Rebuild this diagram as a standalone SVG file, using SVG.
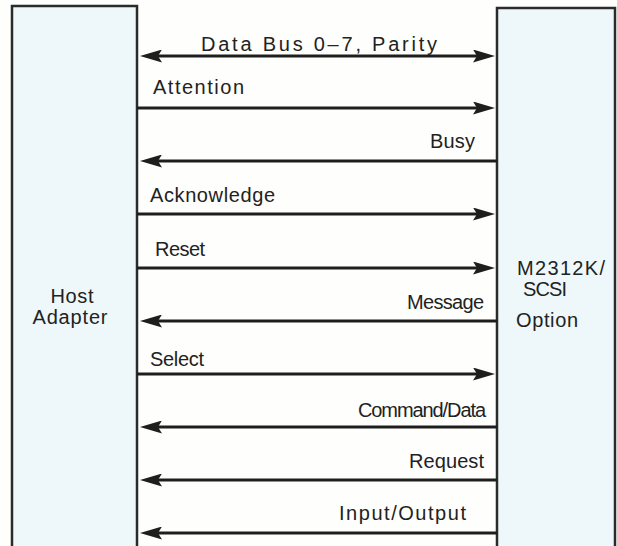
<svg xmlns="http://www.w3.org/2000/svg" width="617" height="546" viewBox="0 0 617 546">
<defs>
<style>
.box{fill:#eef8fb;stroke:#2b2b2b;stroke-width:2.5}
.sig{stroke:#1e1e1e;stroke-width:3;fill:none}
text{font-family:"Liberation Sans",Arial,sans-serif;font-size:20px;fill:#222}
</style>
<marker id="ah" viewBox="0 0 22 13" refX="14" refY="6.5" markerWidth="22" markerHeight="13" markerUnits="userSpaceOnUse" orient="auto-start-reverse">
<path d="M0,0 L22,6.5 L0,13 L4,6.5 Z" fill="#1e1e1e"/>
</marker>
</defs>
<rect width="617" height="546" fill="#fefefc"/>
<g id="host-adapter">
<path class="box" d="M12,550 L12,6 L137,6 L137,550"/>
<text x="72" y="303" text-anchor="middle" textLength="43">Host</text>
<text x="70" y="324" text-anchor="middle" textLength="75">Adapter</text>
</g>
<g id="scsi-option">
<path class="box" d="M497,550 L497,8 L615,8 L615,550"/>
<text x="517" y="275" textLength="88">M2312K/</text>
<text x="523" y="296" textLength="44">SCSI</text>
<text x="516" y="327" textLength="62">Option</text>
</g>
<g id="connectors">
<line class="sig" x1="148" y1="56" x2="487" y2="56" marker-start="url(#ah)" marker-end="url(#ah)"/>
<line class="sig" x1="137" y1="108" x2="487" y2="108" marker-end="url(#ah)"/>
<line class="sig" x1="497" y1="161" x2="148" y2="161" marker-end="url(#ah)"/>
<line class="sig" x1="137" y1="214" x2="487" y2="214" marker-end="url(#ah)"/>
<line class="sig" x1="137" y1="268" x2="487" y2="268" marker-end="url(#ah)"/>
<line class="sig" x1="497" y1="321" x2="148" y2="321" marker-end="url(#ah)"/>
<line class="sig" x1="137" y1="374" x2="487" y2="374" marker-end="url(#ah)"/>
<line class="sig" x1="497" y1="427" x2="148" y2="427" marker-end="url(#ah)"/>
<line class="sig" x1="497" y1="480" x2="148" y2="480" marker-end="url(#ah)"/>
<line class="sig" x1="497" y1="533" x2="148" y2="533" marker-end="url(#ah)"/>
</g>
<g id="labels">
<text x="201" y="51" textLength="236">Data Bus 0–7, Parity</text>
<text x="153" y="94" textLength="91">Attention</text>
<text x="430" y="148" textLength="45">Busy</text>
<text x="150" y="202" textLength="125">Acknowledge</text>
<text x="155" y="256" textLength="50">Reset</text>
<text x="407" y="309" textLength="77">Message</text>
<text x="150" y="366" textLength="54">Select</text>
<text x="358" y="417" textLength="128">Command/Data</text>
<text x="409" y="468" textLength="75">Request</text>
<text x="339" y="520" textLength="127">Input/Output</text>
</g>
</svg>
